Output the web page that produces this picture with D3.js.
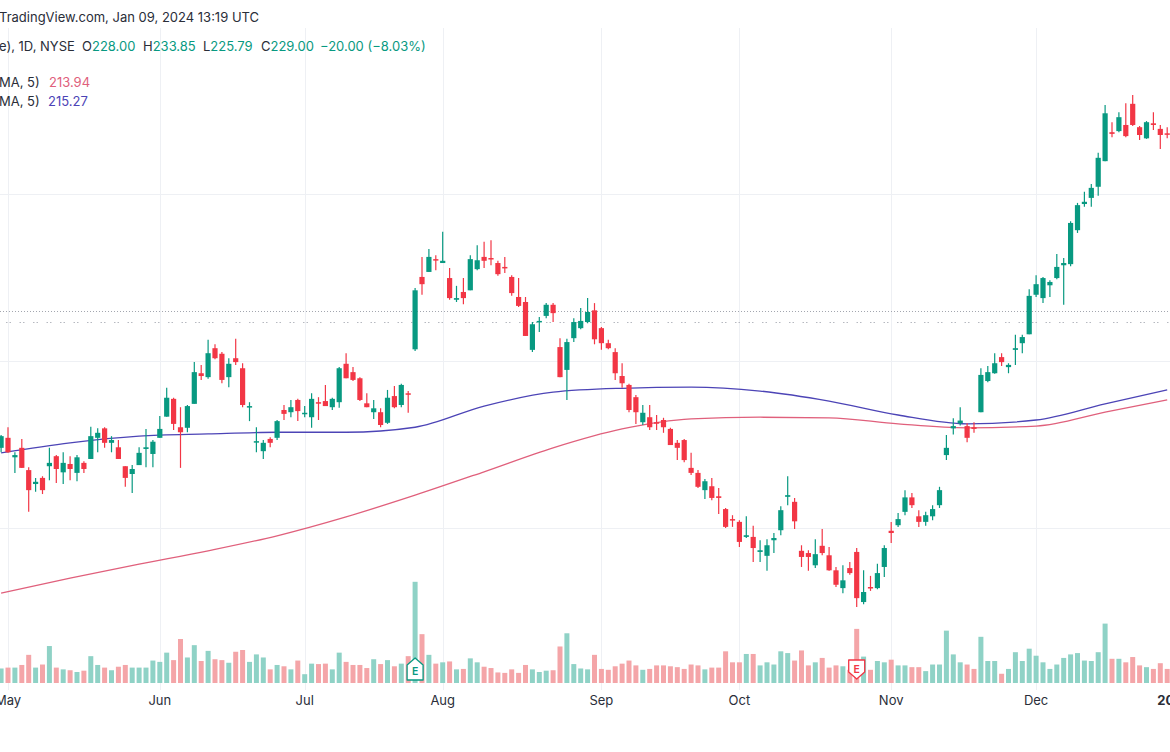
<!DOCTYPE html>
<html>
<head>
<meta charset="utf-8">
<script src="https://cdn.jsdelivr.net/npm/d3@7"></script>
<style>
  body { margin: 0; background: #fff; }
  svg { display: block; font-family: Inter, "Noto Sans", sans-serif; }
</style>
</head>
<body>
<div id="chart"></div>
<script>
// daily candles, 28 Apr 2023 .. 29 Dec 2023
const opens = [
  204.4,206.2,202.7,204.4,200.4,197.9,199.0,201.1,202.9,200.0,
  201.5,199.9,201.7,202.4,206.2,207.9,205.3,204.5,201.1,199.7,
  201.3,204.2,203.3,206.2,210.0,213.2,208.1,208.0,212.3,217.8,
  217.1,222.3,221.3,217.1,220.5,218.7,211.7,205.5,203.8,206.0,
  206.2,211.2,210.8,213.0,210.5,209.9,212.6,212.8,211.7,212.6,
  219.5,218.0,216.9,212.4,210.8,210.8,208.9,213.7,212.1,214.2,
  222.1,235.1,236.0,238.3,237.6,234.9,231.0,232.4,232.7,236.5,
  238.7,238.5,237.6,236.9,235.1,231.5,230.6,222.0,227.0,228.1,
  230.1,222.5,218.4,224.1,225.9,227.0,229.1,225.9,223.2,221.6,
  217.3,215.7,213.5,209.0,209.9,209.0,209.4,207.8,205.3,205.8,
  200.8,199.9,196.8,197.5,195.7,193.4,191.6,191.1,188.4,188.4,
  185.7,185.0,187.8,189.6,195.6,194.7,185.9,185.5,183.3,186.8,
  185.1,182.4,179.2,182.8,185.7,176.7,179.4,179.2,183.0,189.5,
  190.5,192.9,195.5,192.1,191.1,192.1,194.1,203.1,207.9,208.8,
  208.3,208.1,210.8,216.4,217.8,220.7,218.9,222.0,223.2,224.8,
  231.9,231.3,233.6,234.9,237.2,237.4,243.5,248.2,249.3,251.3,
  255.9,261.1,261.3,262.4,266.2,262.0,260.0,262.7,261.7,260.9
];
const highs = [
  206.7,208.1,203.6,206.0,200.9,199.0,199.3,204.4,203.1,203.6,
  202.9,203.1,202.0,208.2,207.9,208.1,206.5,205.8,201.1,201.3,
  204.5,207.8,205.8,210.1,215.2,213.4,211.7,212.1,219.8,219.3,
  223.8,223.0,221.6,220.5,224.0,219.6,212.6,208.1,205.8,206.3,
  209.4,212.1,213.0,213.2,211.9,214.2,213.5,215.7,213.4,218.9,
  221.4,218.9,217.1,214.2,213.0,211.5,214.8,215.5,215.9,214.6,
  233.1,238.7,240.1,239.0,243.2,236.7,233.5,234.9,239.0,240.8,
  241.4,241.7,238.0,238.7,235.4,234.9,231.5,227.0,227.9,230.4,
  230.4,224.1,224.0,227.7,229.5,231.3,230.4,226.1,223.8,222.3,
  219.6,215.9,213.9,212.1,212.1,210.3,209.8,208.0,205.8,206.0,
  203.5,200.4,198.8,199.0,197.2,193.6,192.3,191.4,192.1,190.4,
  187.8,188.0,189.1,193.9,199.3,195.4,186.9,186.0,188.0,189.8,
  186.6,183.0,183.3,183.9,186.4,182.4,181.4,183.6,186.9,191.1,
  192.7,196.8,196.3,193.2,192.9,194.1,197.4,206.7,209.7,211.7,
  208.8,209.0,218.7,219.1,221.4,221.4,219.6,224.7,224.7,232.9,
  235.4,235.1,234.5,239.2,238.5,245.1,248.4,250.4,251.8,257.4,
  266.0,262.9,264.7,266.3,267.8,262.2,263.1,264.7,262.4,262.0
];
const lows = [
  203.6,203.5,199.9,200.8,192.9,196.5,196.1,198.6,198.1,197.9,
  198.6,198.4,199.9,202.4,203.6,204.4,203.6,202.4,197.4,196.3,
  201.3,200.9,200.9,206.2,210.0,207.6,200.8,207.2,212.3,216.6,
  216.8,220.3,216.0,215.3,219.3,211.7,209.2,203.6,202.4,204.5,
  205.8,209.4,209.9,209.2,209.9,208.0,209.4,211.9,211.2,211.6,
  216.9,216.4,212.8,211.7,209.6,208.1,208.7,211.5,211.7,210.7,
  221.8,231.9,236.0,236.3,237.6,231.0,230.6,230.2,232.7,236.3,
  236.7,237.2,235.3,235.8,231.7,229.7,224.5,221.6,225.2,227.7,
  227.0,217.1,213.0,223.4,225.7,226.8,223.0,222.0,222.1,216.6,
  215.2,210.8,208.7,208.5,207.6,207.6,207.1,204.9,202.2,201.8,
  199.5,197.2,195.2,195.0,192.5,190.0,190.2,186.6,188.2,183.9,
  183.9,182.3,185.5,188.7,194.1,189.8,183.0,182.3,182.8,185.1,
  182.3,179.4,178.3,181.6,175.8,176.3,178.7,179.0,181.2,187.3,
  190.2,192.3,193.6,190.2,190.4,191.4,193.6,202.2,206.8,208.4,
  205.4,207.1,210.8,216.2,217.7,219.1,217.8,219.3,221.4,224.8,
  231.5,230.4,231.5,234.7,230.1,237.0,243.0,247.7,247.7,249.7,
  255.9,260.2,261.1,260.2,262.2,259.7,259.9,261.5,258.1,260.0
];
const closes = [
  206.5,203.6,203.1,200.8,196.8,198.3,196.8,201.7,200.6,201.7,
  200.6,202.7,200.6,206.5,207.1,205.3,205.8,202.4,199.0,200.6,
  203.5,204.5,205.5,207.8,213.4,208.7,207.2,211.9,218.0,217.3,
  221.4,220.5,216.6,219.5,219.8,212.1,211.9,205.6,205.3,205.3,
  209.2,210.5,211.7,211.0,210.7,213.2,212.4,211.9,213.2,218.7,
  216.9,216.6,213.0,211.7,211.5,208.5,213.4,211.7,215.7,214.1,
  232.7,233.8,238.7,238.1,238.0,231.3,231.3,231.3,238.3,238.1,
  238.0,238.3,235.6,236.7,232.2,229.9,224.5,226.6,227.2,230.1,
  228.6,217.1,223.4,227.0,227.2,228.8,223.9,223.2,222.3,217.8,
  216.0,211.2,210.8,210.7,208.1,208.9,208.1,204.9,204.4,202.2,
  199.9,197.4,198.4,195.4,195.4,190.2,191.4,187.5,188.7,186.4,
  186.0,186.9,188.2,193.2,195.9,191.2,184.8,184.8,185.3,185.5,
  182.4,179.8,180.6,181.9,177.4,178.5,179.2,181.9,186.4,189.1,
  191.6,195.5,194.1,191.1,192.3,193.4,196.8,204.4,208.3,209.3,
  206.2,207.8,217.5,218.0,219.6,219.8,219.3,222.3,224.3,231.7,
  233.8,234.9,234.2,236.9,237.6,244.8,248.0,248.6,251.1,256.5,
  264.5,260.8,263.8,260.4,262.4,260.6,262.9,262.4,260.6,260.8
];
const volumes = [
  3.3,3.5,3.5,4.1,6.4,3.5,4.2,8.4,3.5,3.1,
  2.9,2.5,2.8,6.1,4.1,3.5,2.9,3.7,4.1,3.5,
  3.5,3.5,5.1,4.8,6.9,5.2,10.0,5.8,8.6,5.0,
  7.3,5.4,5.2,4.6,7.1,7.5,4.8,6.5,5.8,3.1,
  4.1,3.8,3.1,5.1,2.0,4.4,4.3,4.4,3.1,6.9,
  4.8,4.1,4.1,3.4,5.4,4.3,5.2,3.8,4.4,6.1,
  23.0,11.1,6.4,4.4,4.7,4.9,3.1,3.2,5.6,4.7,
  3.7,3.4,2.4,2.3,3.1,2.3,4.1,3.1,2.5,2.8,
  2.9,8.3,11.3,4.3,3.3,3.1,6.4,3.2,3.0,3.8,
  4.4,5.1,4.0,3.0,3.2,4.0,4.0,3.8,3.6,3.2,
  4.2,4.0,3.1,3.5,3.5,7.2,4.7,4.7,6.6,6.6,
  4.0,4.7,4.2,7.2,6.8,5.1,7.4,4.0,4.7,5.7,
  3.5,4.0,3.8,3.0,12.3,6.0,3.0,5.0,4.7,5.3,
  4.0,4.0,3.6,3.6,2.7,4.2,4.2,11.9,6.5,4.7,
  4.2,3.2,10.5,5.0,5.0,2.1,3.2,7.0,5.0,7.8,
  6.2,4.7,3.2,4.2,5.7,6.5,6.8,5.1,5.0,7.0,
  13.5,5.5,5.5,4.7,5.9,4.0,3.6,3.2,4.5,3.2
];

// moving averages, read at every tenth bar
const maIdx  = [0, 10, 20, 30, 40, 50, 60, 70, 80, 90, 100, 110, 120, 130, 140, 150, 160, 169];
const maFast = [203.5,205.3,206.5,206.9,207.2,207.2,208.1,211.9,214.4,215.1,215.3,214.6,212.8,210.3,208.7,209.4,212.3,214.8];
const maSlow = [178.3,181.0,183.5,185.9,188.6,192.0,195.9,200.1,204.4,207.8,209.6,209.9,209.8,208.7,208.0,208.3,210.8,213.0];

const priceTicks = [190, 220, 250];
const lastPrice = 229.00;
const extPrice = 227.0;
const earnings = [60, 124];   // bar index of the E markers
const holidays = ["2023-05-29", "2023-06-19", "2023-07-04", "2023-09-04", "2023-11-23", "2023-12-25"];

const W = 1170, H = 752;
const up = "#089981", down = "#f23645";
const volUp = "#8fd2c6", volDown = "#f4a5a8";

const fmtDay = d3.timeFormat("%Y-%m-%d");
const days = d3.timeDay.range(new Date(2023, 3, 28), new Date(2024, 0, 3))
  .filter(d => d.getDay() !== 0 && d.getDay() !== 6 && !holidays.includes(fmtDay(d)));

const x = d3.scaleLinear().domain([0, 170]).range([1.1, 1174.1]);
const y = d3.scaleLinear().domain([190, 250]).range([528, 194]);
const yVol = d3.scaleLinear().domain([0, 25]).range([683, 573]);

const svg = d3.select("#chart").append("svg")
  .attr("width", W).attr("height", H)
  .attr("viewBox", `0 0 ${W} ${H}`);

svg.append("rect").attr("width", W).attr("height", H).attr("fill", "#fff");

// month ticks
const monthStarts = days.map((d, i) => i).filter(i => i > 0 && days[i].getMonth() !== days[i - 1].getMonth());

const grid = svg.append("g").attr("stroke", "#eef0f4").attr("stroke-width", 1);
grid.selectAll("line.v")
  .data(monthStarts)
  .enter().append("line")
  .attr("x1", i => Math.round(x(i)) + 0.5).attr("x2", i => Math.round(x(i)) + 0.5)
  .attr("y1", 28).attr("y2", 690);
grid.selectAll("line.h")
  .data(priceTicks)
  .enter().append("line")
  .attr("x1", 0).attr("x2", W)
  .attr("y1", d => Math.round(y(d)) + 0.5).attr("y2", d => Math.round(y(d)) + 0.5);

// price lines
svg.append("line")
  .attr("x1", 0).attr("x2", W)
  .attr("y1", Math.round(y(lastPrice)) + 0.5).attr("y2", Math.round(y(lastPrice)) + 0.5)
  .attr("stroke", "#a3a6af").attr("stroke-width", 1)
  .attr("stroke-dasharray", "1,2");
svg.append("line")
  .attr("x1", 6).attr("x2", W)
  .attr("y1", Math.round(y(extPrice)) + 0.5).attr("y2", Math.round(y(extPrice)) + 0.5)
  .attr("stroke", "#b6b9c0").attr("stroke-width", 1)
  .attr("stroke-dasharray", "1.5,2,1.5,8.5");

// volume
const idx = d3.range(opens.length);
svg.append("g").selectAll("rect")
  .data(idx)
  .enter().append("rect")
  .attr("x", i => x(i) - 2.5)
  .attr("width", 5)
  .attr("y", i => yVol(volumes[i]))
  .attr("height", i => yVol(0) - yVol(volumes[i]))
  .attr("fill", i => closes[i] >= opens[i] ? volUp : volDown);

// moving averages
const maLine = vals => d3.line()
  .x((d, j) => x(maIdx[j]))
  .y(d => y(d))
  .curve(d3.curveMonotoneX)(vals);

svg.append("path").attr("d", maLine(maSlow))
  .attr("fill", "none").attr("stroke", "#e0607c").attr("stroke-width", 1.3);
svg.append("path").attr("d", maLine(maFast))
  .attr("fill", "none").attr("stroke", "#4c44b6").attr("stroke-width", 1.3);

// candles
const candles = svg.append("g").selectAll("g")
  .data(idx)
  .enter().append("g")
  .attr("fill", i => closes[i] >= opens[i] ? up : down)
  .attr("stroke", i => closes[i] >= opens[i] ? up : down);

candles.append("line")
  .attr("x1", i => x(i)).attr("x2", i => x(i))
  .attr("y1", i => y(highs[i])).attr("y2", i => y(lows[i]))
  .attr("stroke-width", 1.2);

candles.append("rect")
  .attr("stroke", "none")
  .attr("x", i => x(i) - 2.6)
  .attr("width", 5.2)
  .attr("y", i => y(Math.max(opens[i], closes[i])))
  .attr("height", i => Math.max(1.5, Math.abs(y(opens[i]) - y(closes[i]))));

// earnings markers
const eg = svg.append("g").selectAll("g")
  .data(earnings)
  .enter().append("g")
  .attr("transform", i => `translate(${x(i)},0)`);

eg.append("path")
  .attr("d", (i, j) => j === 0
    ? "M-8,680 L-8,665 L0,658 L8,665 L8,680 Z"
    : "M-8,660 L8,660 L8,672 L0,679 L-8,672 Z")
  .attr("fill", "#fff")
  .attr("stroke", (i, j) => j === 0 ? up : down)
  .attr("stroke-width", 1.3)
  .attr("stroke-linejoin", "round");

eg.append("text")
  .attr("text-anchor", "middle")
  .attr("y", (i, j) => j === 0 ? 675 : 673)
  .attr("font-size", 10.5)
  .attr("font-weight", 600)
  .attr("fill", (i, j) => j === 0 ? up : down)
  .text("E");

// time axis labels
svg.append("g").selectAll("text")
  .data(monthStarts)
  .enter().append("text")
  .attr("x", i => x(i))
  .attr("y", 705)
  .attr("text-anchor", "middle")
  .attr("font-size", 13)
  .attr("font-weight", i => days[i].getMonth() === 0 ? 700 : 400)
  .attr("fill", "#2a2e39")
  .text(i => days[i].getMonth() === 0 ? d3.timeFormat("%Y")(days[i]) : d3.timeFormat("%b")(days[i]));

// legend text
const txt = svg.append("g").attr("font-size", 13).attr("fill", "#2a2e39");

txt.append("text").attr("x", -1).attr("y", 22).text("TradingView.com, Jan 09, 2024 13:19 UTC");

txt.append("text").attr("x", -1).attr("y", 51).text("e), 1D, NYSE");
const ohlc = [["O", "228.00", 82], ["H", "233.85", 143], ["L", "225.79", 203], ["C", "229.00", 261]];
ohlc.forEach(([k, v, px]) => {
  const t = txt.append("text").attr("x", px).attr("y", 51);
  t.append("tspan").text(k);
  t.append("tspan").attr("fill", up).text(v);
});
txt.append("text").attr("x", 320).attr("y", 51).attr("fill", up).text("\u221220.00 (\u22128.03%)");

txt.append("text").attr("x", -1).attr("y", 87).text("MA, 5)");
txt.append("text").attr("x", 49).attr("y", 87).attr("fill", "#e0607c").text("213.94");
txt.append("text").attr("x", -1).attr("y", 106).text("MA, 5)");
txt.append("text").attr("x", 48).attr("y", 106).attr("fill", "#4c44b6").text("215.27");
</script>
</body>
</html>
